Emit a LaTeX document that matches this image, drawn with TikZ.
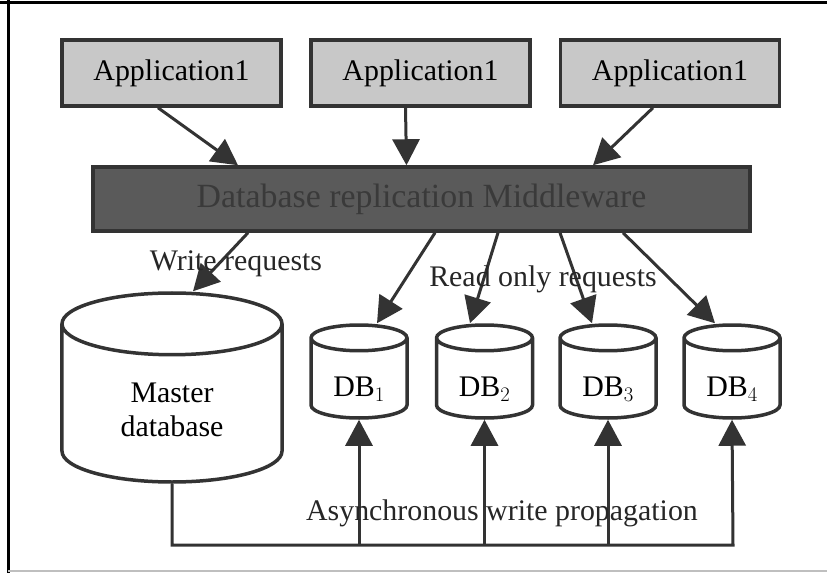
\documentclass[tikz,border=0pt]{standalone}
\usepackage{fontspec}
\setmainfont{Liberation Serif}
\usepackage{tikz}
\usetikzlibrary{arrows.meta,shapes.geometric,calc}
\definecolor{inkgray}{HTML}{333333}
\definecolor{appgray}{HTML}{C8C8C8}
\definecolor{midgray}{HTML}{5A5A5A}
\definecolor{midtext}{HTML}{3A3A3A}
\tikzset{
  appbox/.style={draw=inkgray, line width=3.5bp, fill=appgray, minimum width=219bp,
    minimum height=66bp, inner sep=0pt, font=\fontsize{30}{34}\selectfont},
  midbox/.style={draw=inkgray, line width=3.5bp, fill=midgray, minimum width=657bp,
    minimum height=64bp, inner sep=0pt, text=midtext, font=\fontsize{34}{38}\selectfont},
  drum/.style={cylinder, shape border rotate=90, draw=inkgray, line width=3.5bp,
    inner sep=0pt, aspect=0.5, anchor=shape center, font=\fontsize{30}{34}\selectfont, align=center},
  lbl/.style={text=black!85, font=\fontsize{30}{34}\selectfont, inner sep=0pt},
  arr/.style={draw=inkgray, line width=3bp, -{Triangle[length=26bp,width=27bp]}}
}

\begin{document}
\begin{tikzpicture}[x=1bp, y=-1bp]
    \useasboundingbox (0,0) rectangle (827,573);
    % frame
    \draw[line width=3bp] (0,3) -- (827,3);
    \draw[line width=3bp] (8,0) -- (8,573);
    \draw[line width=1.5bp, black!25] (8,571) -- (827,571);

    % applications and middleware
    \node[appbox] (app1) at (171.5,73) {Application1};
    \node[appbox] (app2) at (420.5,73) {Application1};
    \node[appbox] (app3) at (670,73) {Application1};
    \node[midbox] (mw) at (421.5,199) {Database replication Middleware};

    % databases
    \node[drum, aspect=0.6, minimum width=220bp, minimum height=189bp, text height=65bp] (master) at (172,387.5) {Master\\database};
    \foreach \i/\x in {1/359, 2/484.5, 3/608, 4/732}
        \node[drum, minimum width=96bp, minimum height=93bp, text height=40bp] (db\i) at (\x,371.5) {DB$_{\i}$};

    % requests into the middleware
    \draw[arr] ([xshift=-13.5bp]app1.south) -- ([xshift=-183.5bp]mw.north);
    \draw[arr] ([xshift=-15bp]app2.south) -- ([xshift=-15bp]mw.north);
    \draw[arr] ([xshift=-17bp]app3.south) -- ([xshift=171.5bp]mw.north);

    % write and read requests
    \draw[arr] ([xshift=-173.5bp]mw.south) -- ([xshift=21bp]master.north);
    \draw[arr] ([xshift=13.5bp]mw.south) -- ([xshift=18bp]db1.north);
    \draw[arr] ([xshift=76.5bp]mw.south) -- ([xshift=-14.5bp]db2.north);
    \draw[arr] ([xshift=138.5bp]mw.south) -- ([xshift=-16bp]db3.north);
    \draw[arr] ([xshift=201.5bp]mw.south) -- ([xshift=-17bp]db4.north);
    \node[lbl] (wlbl) at (236,264) {Write requests};
    \node[lbl] (rlbl) at (543,279) {Read only requests};

    % asynchronous propagation
    \coordinate (bus) at (733,545);
    \draw[arr] (master.south) |- (bus) -- (db4.south);
    \foreach \i in {1,2,3}
        \draw[arr] (db\i.south |- bus) -- (db\i.south);
    \node[lbl] (alab) at (502,513) {Asynchronous write propagation};
\end{tikzpicture}
\end{document}
